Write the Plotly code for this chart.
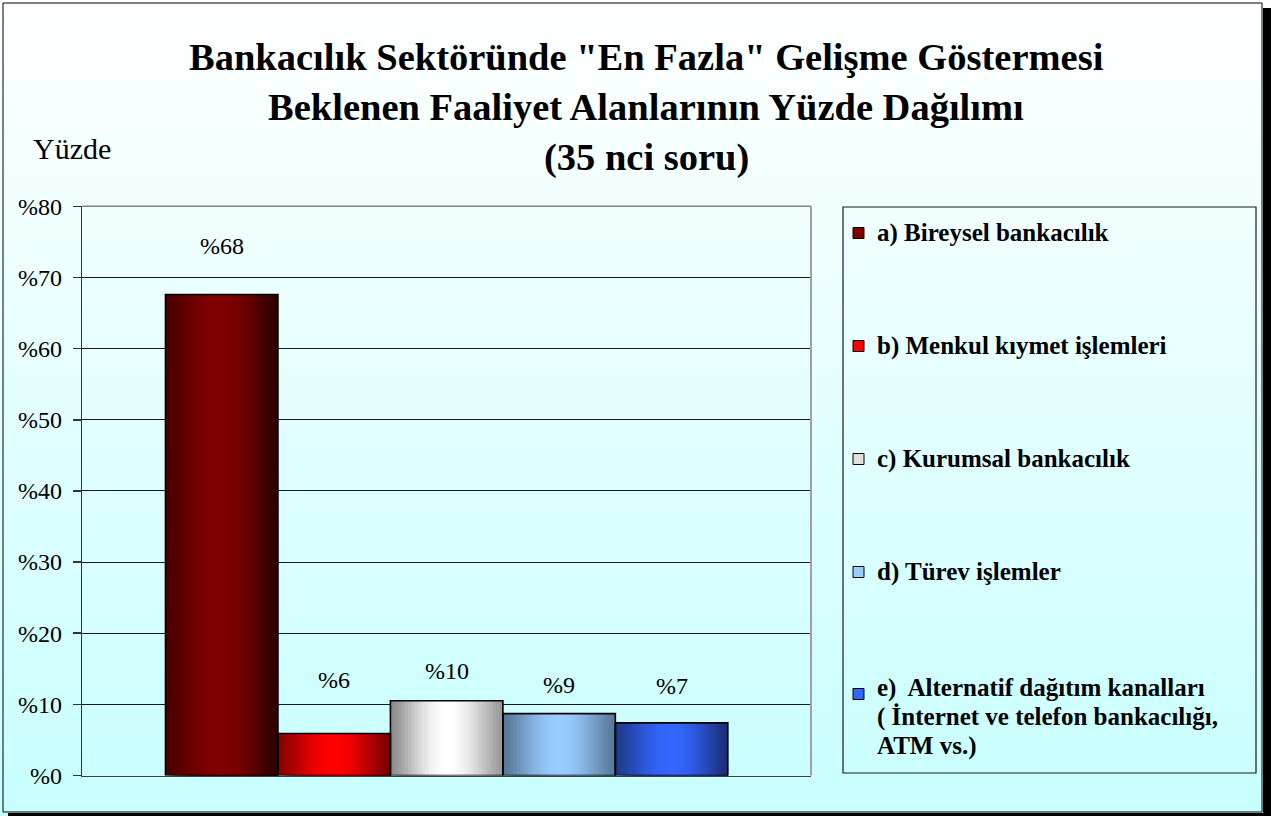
import math
import plotly.graph_objects as go

# ---------------- data ----------------
categories = [
    "a) Bireysel bankacılık",
    "b) Menkul kıymet işlemleri",
    "c) Kurumsal bankacılık",
    "d) Türev işlemler",
    "e)  Alternatif dağıtım kanalları<br>( İnternet ve telefon bankacılığı,<br>ATM vs.)",
]
values = [67.6, 5.9, 10.5, 8.7, 7.4]
value_labels = ["%68", "%6", "%10", "%9", "%7"]
tick_values = [0, 10, 20, 30, 40, 50, 60, 70, 80]
tick_labels = ["%0", "%10", "%20", "%30", "%40", "%50", "%60", "%70", "%80"]
title_lines = [
    'Bankacılık Sektöründe "En Fazla" Gelişme Göstermesi',
    "Beklenen Faaliyet Alanlarının Yüzde Dağılımı",
    "(35 nci soru)",
]
y_title = "Yüzde"

# ---------------- style ----------------
W, H = 1271, 816
SERIF = "Liberation Serif, Times New Roman, serif"
bar_shades = [
    ("#4a0000", "#800000", "#2c0000"),
    ("#8a0000", "#ff0000", "#780000"),
    ("#8a8a8a", "#ffffff", "#999999"),
    ("#567696", "#99ccff", "#587898"),
    ("#1e3a8a", "#3366ff", "#1a2e76"),
]
legend_colors = ["#800000", "#ff0000", "#e0e0e0", "#99ccff", "#3366ff"]
label_shift = [34, 39, 15, 14, 22]  # px between bar top and label box bottom

PX_L, PX_R, PX_T, PX_B = 82.3, 811.0, 206.3, 775.5


def px(xp):
    return xp / W


def py(yp):
    return 1 - yp / H


def hex2rgb(h):
    h = h.lstrip("#")
    return [int(h[i:i + 2], 16) for i in (0, 2, 4)]


def shade(left, centre, right, n):
    L, C, R = hex2rgb(left), hex2rgb(centre), hex2rgb(right)
    out = []
    for j in range(n):
        t = (j + 0.5) / n
        w = math.sin(math.pi * t) ** 1.3
        E = L if t < 0.5 else R
        c = [round(E[k] + (C[k] - E[k]) * w) for k in range(3)]
        out.append("rgb(%d,%d,%d)" % tuple(c))
    return out


fig = go.Figure()

bargap = 0.2283
n_series = len(values)
bw = (1 - bargap) / n_series
start = -(1 - bargap) / 2
N = 32

for i, v in enumerate(values):
    off = start + i * bw
    sw = bw / N
    # cylinder shading: each strip runs to the bar's right edge, next strip covers it
    fig.add_trace(go.Bar(
        x=[0] * N,
        y=[v] * N,
        width=[bw - j * sw for j in range(N)],
        offset=[off + j * sw for j in range(N)],
        marker=dict(color=shade(*bar_shades[i], N), line=dict(width=0)),
        showlegend=False,
        hoverinfo="skip",
    ))

# bar outlines
fig.add_trace(go.Bar(
    x=[0] * n_series,
    y=values,
    width=[bw] * n_series,
    offset=[start + i * bw for i in range(n_series)],
    marker=dict(color="rgba(0,0,0,0)", line=dict(color="#000000", width=1.6)),
    showlegend=False,
    hoverinfo="skip",
))

shapes = []
# background gradient
top_c, bot_c = hex2rgb("#ffffff"), hex2rgb("#c8ffff")
steps = 80
for s in range(steps):
    f = s / (steps - 1)
    c = [round(top_c[k] + (bot_c[k] - top_c[k]) * f) for k in range(3)]
    y0 = s * H / steps
    y1 = (s + 1) * H / steps + 1
    shapes.append(dict(type="rect", xref="paper", yref="paper",
                       x0=0, x1=1, y0=py(min(y1, H)), y1=py(y0),
                       fillcolor="rgb(%d,%d,%d)" % tuple(c), line=dict(width=0),
                       layer="below"))
# outer frame + shadow
shapes.append(dict(type="rect", xref="paper", yref="paper", x0=px(3), x1=px(1262), y0=py(812), y1=py(3),
                   line=dict(color="#000000", width=1), fillcolor="rgba(0,0,0,0)", layer="above"))
shapes.append(dict(type="rect", xref="paper", yref="paper", x0=px(1263), x1=1, y0=0, y1=py(8),
                   line=dict(width=0), fillcolor="#000000", layer="above"))
shapes.append(dict(type="rect", xref="paper", yref="paper", x0=px(8), x1=1, y0=0, y1=py(813),
                   line=dict(width=0), fillcolor="#000000", layer="above"))
# plot area top / right border
shapes.append(dict(type="line", xref="paper", yref="paper", x0=px(PX_L), x1=px(PX_R), y0=py(PX_T), y1=py(PX_T),
                   line=dict(color="#808080", width=1.5), layer="above"))
shapes.append(dict(type="line", xref="paper", yref="paper", x0=px(PX_R), x1=px(PX_R), y0=py(PX_B), y1=py(PX_T),
                   line=dict(color="#a0a0a0", width=2), layer="above"))
# legend box
LX0, LX1, LY0, LY1 = 843, 1256, 207, 773
shapes.append(dict(type="rect", xref="paper", yref="paper", x0=px(LX0), x1=px(LX1), y0=py(LY1), y1=py(LY0),
                   line=dict(color="#1a1a1a", width=1.2), fillcolor="rgba(0,0,0,0)", layer="above"))

annotations = []
legend_marker_y = [233, 346, 459, 572, 694]
legend_text_y = [233, 346, 459, 572, 688]
LINE_GAP = 29
for i, cat in enumerate(categories):
    ym = legend_marker_y[i]
    shapes.append(dict(type="rect", xref="paper", yref="paper",
                       x0=px(853), x1=px(864), y0=py(ym + 5.5), y1=py(ym - 5.5),
                       fillcolor=legend_colors[i], line=dict(color="#000000", width=1), layer="above"))
    for k, line in enumerate(cat.split("<br>")):
        yt = legend_text_y[i] + k * LINE_GAP
        annotations.append(dict(
            xref="paper", yref="paper", x=px(875), y=py(yt - 16), xanchor="left", yanchor="top",
            text="<b>" + line + "</b>", showarrow=False, align="left",
            font=dict(family=SERIF, size=25, color="#000000")))

title_y = [57, 107, 157]
for t, yc in zip(title_lines, title_y):
    annotations.append(dict(xref="paper", yref="paper", x=px(646), y=py(yc), xanchor="center",
                            yanchor="middle", text="<b>" + t + "</b>", showarrow=False,
                            font=dict(family=SERIF, size=38.5, color="#000000")))
annotations.append(dict(xref="paper", yref="paper", x=px(31), y=py(148), xanchor="left",
                        yanchor="middle", text=y_title, showarrow=False,
                        font=dict(family=SERIF, size=30, color="#000000")))

for i, (v, lab) in enumerate(zip(values, value_labels)):
    annotations.append(dict(xref="x", yref="y", x=start + (i + 0.5) * bw, y=v,
                            yanchor="bottom", xanchor="center", yshift=label_shift[i],
                            text=lab, showarrow=False,
                            font=dict(family=SERIF, size=24, color="#000000")))

fig.update_layout(
    width=W, height=H, autosize=False,
    margin=dict(l=0, r=0, t=0, b=0, pad=0, autoexpand=False),
    paper_bgcolor="#ffffff",
    plot_bgcolor="rgba(0,0,0,0)",
    barmode="overlay",
    showlegend=False,
    shapes=shapes,
    annotations=annotations,
    xaxis=dict(domain=[px(PX_L), px(PX_R)], range=[-0.5, 0.5], showticklabels=False,
               showgrid=False, zeroline=False, ticks="", showline=True, automargin=False,
               linecolor="#404040", linewidth=1.5, fixedrange=True),
    yaxis=dict(domain=[py(PX_B), py(PX_T)], range=[0, 80], tickvals=tick_values,
               ticktext=tick_labels, showgrid=True, gridcolor="#1a1a1a", gridwidth=1,
               zeroline=False, showline=True, linecolor="#333333", linewidth=1.5,
               ticks="outside", ticklen=8, tickcolor="#333333", tickwidth=1.5,
               ticklabelstandoff=6, automargin=False,
               tickfont=dict(family=SERIF, size=24, color="#000000"), fixedrange=True),
)

fig.write_html("out.html", include_plotlyjs=True,
               config={"displayModeBar": False, "staticPlot": True, "responsive": False},
               post_script="document.body.style.margin='0';")
